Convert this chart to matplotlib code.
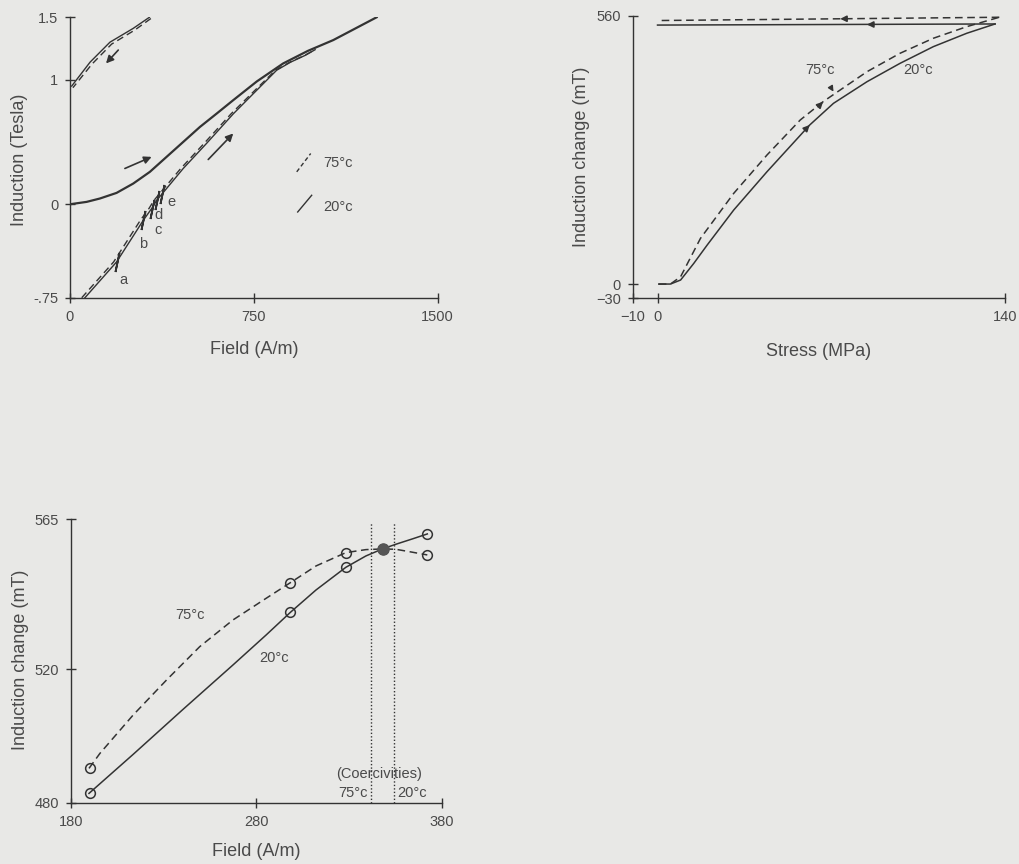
import matplotlib
matplotlib.use("Agg")
import matplotlib.pyplot as plt

plt.rcParams['font.family'] = ['Liberation Sans', 'DejaVu Sans']

# ---- data ----
# (a) B-H loop, Field (A/m) vs Induction (T)
init_H = [0, 68, 122, 190, 258, 326, 394, 462, 530, 600, 666, 762, 870, 970, 1074, 1251]
init_B = [0, 0.019, 0.046, 0.091, 0.166, 0.26, 0.38, 0.50, 0.62, 0.73, 0.835, 0.985, 1.13, 1.23, 1.317, 1.5]

desc20_H = [324, 258, 163, 82, 7]
desc20_B = [1.5, 1.411, 1.30, 1.14, 0.948]
desc75_H = [330, 264, 170, 90, 12]
desc75_B = [1.49, 1.397, 1.285, 1.125, 0.935]

low20_H = [61, 190, 299, 333, 354, 377, 462, 558, 666, 762, 843, 900, 960, 1000]
low20_B = [-0.75, -0.463, -0.129, -0.035, 0.032, 0.086, 0.287, 0.49, 0.725, 0.915, 1.075, 1.14, 1.195, 1.24]
low75_H = [48, 178, 287, 322, 343, 366, 452, 548, 657, 755, 838, 897, 958, 1000]
low75_B = [-0.75, -0.463, -0.129, -0.035, 0.032, 0.086, 0.287, 0.49, 0.725, 0.915, 1.075, 1.14, 1.195, 1.24]

mark_H = [190, 299, 333, 354, 377]
mark_B = [-0.463, -0.129, -0.035, 0.032, 0.086]
mark_lbl = ['a', 'b', 'c', 'd', 'e']
mark_lbl_H = [218, 299, 360, 360, 415]
mark_lbl_B = [-0.605, -0.316, -0.203, -0.088, 0.018]

# (b) Induction change (mT) vs Stress (MPa)
s20_up = [0.5, 5.2, 9.3, 14.6, 20, 30.7, 44.1, 61.3, 70.9, 84.4, 97.7, 111.1, 124.6, 136]
m20_up = [0, 0, 8.4, 43.1, 81.4, 154.5, 234.4, 331.9, 377.2, 422.3, 460.6, 495.4, 523.4, 542.8]
s20_down = [136, 0]
m20_down = [542.8, 540.5]

s75_up = [0.5, 5.2, 9.3, 17.3, 30.7, 44.1, 57.5, 66.7, 84.4, 97.7, 111.1, 124.6, 137.7]
m75_up = [0, 0, 15.3, 95.3, 189.3, 269.3, 342.4, 380.6, 443.2, 481.6, 512.9, 537.2, 556.8]
s75_down = [137.7, 0.7]
m75_down = [556.8, 550]

# (c) Induction change (mT) vs Field (A/m), points a-e
pts_H = [190, 298, 328, 348, 372]
pts20 = [482.8, 537.1, 550.6, 556.1, 560.6]
pts75 = [490.3, 546.0, 555.0, 556.1, 554.3]

c20_H = [189.7, 213.5, 240.4, 267.3, 285.2, 298.3, 312.1, 328.2, 339, 347.9, 355.1, 364, 372.1]
c20_B = [482.8, 494.5, 508.0, 521.3, 530.3, 537.1, 543.8, 550.6, 554.0, 556.1, 557.5, 559.1, 560.6]
c75_H = [189.7, 195.6, 213.5, 231.5, 249.4, 267.3, 285.2, 298.3, 312.1, 328.2, 339, 347.9, 355.1, 362.3, 372.1]
c75_B = [490.3, 494.8, 506.3, 516.8, 526.8, 534.8, 541.3, 546.0, 551.0, 555.0, 555.9, 556.1, 556.0, 555.3, 554.3]

coerc_H = [341.7, 354.2]

# ---- style ----
bg = '#e8e8e6'
ink = '#333333'
txt = '#4a4a4a'
dash = (0, (5, 3))

fig = plt.figure(figsize=(10.2, 8.64), dpi=100, facecolor=bg)


def style_axes(ax):
    ax.set_facecolor(bg)
    for s in ['top', 'right']:
        ax.spines[s].set_visible(False)
    for s in ['left', 'bottom']:
        ax.spines[s].set_color(ink)
        ax.spines[s].set_linewidth(1.0)
    ax.tick_params(direction='inout', length=7, width=1, color=ink,
                   labelcolor=txt, labelsize=10.5, pad=5)


def arrow(ax, tip, tail, ms=11):
    ax.annotate('', xy=tip, xytext=tail,
                arrowprops=dict(arrowstyle='-|>', color=ink, lw=1.2,
                                mutation_scale=ms, shrinkA=0, shrinkB=0))


# ---------- panel (a) ----------
ax1 = fig.add_axes([0.0686, 0.6554, 0.3605, 0.3246])
style_axes(ax1)
ax1.plot(init_H, init_B, color=ink, lw=1.6)
ax1.plot(desc20_H, desc20_B, color=ink, lw=1.0)
ax1.plot(desc75_H, desc75_B, color=ink, lw=1.0, ls=dash)
ax1.plot(low20_H, low20_B, color=ink, lw=1.0)
ax1.plot(low75_H, low75_B, color=ink, lw=1.0, ls=dash)
ax1.plot(mark_H, mark_B, ls='none', marker=(2, 2, -12), ms=14, mew=1.3, color=ink)
for h, b, l in zip(mark_lbl_H, mark_lbl_B, mark_lbl):
    ax1.text(h, b, l, color=txt, fontsize=10.5, ha='center', va='center')

arrow(ax1, (333, 0.38), (224, 0.287))
arrow(ax1, (666, 0.568), (564, 0.359))
arrow(ax1, (147, 1.13), (197, 1.237))

# key
ax1.plot([925, 982], [0.26, 0.407], color=ink, lw=1.0, ls=(0, (3, 2)))
ax1.plot([929, 986], [-0.062, 0.072], color=ink, lw=1.0)
ax1.text(1034, 0.327, '75°c', color=txt, fontsize=10.5, va='center')
ax1.text(1034, -0.022, '20°c', color=txt, fontsize=10.5, va='center')

ax1.set_xlim(0, 1500)
ax1.set_ylim(-0.75, 1.5)
ax1.set_xticks([0, 750, 1500])
ax1.set_yticks([-0.75, 0, 1, 1.5])
ax1.set_yticklabels(['-.75', '0', '1', '1.5'])
ax1.set_xlabel('Field (A/m)', fontsize=13, color=txt)
ax1.set_ylabel('Induction (Tesla)', fontsize=13, color=txt)
ax1.xaxis.set_label_coords(0.5, -0.155)
ax1.yaxis.set_label_coords(-0.115, 0.49)

# ---------- panel (b) ----------
ax2 = fig.add_axes([0.6203, 0.6546, 0.365, 0.3272])
style_axes(ax2)
ax2.plot(s20_up, m20_up, color=ink, lw=1.1)
ax2.plot(s20_down, m20_down, color=ink, lw=1.1)
ax2.plot(s75_up, m75_up, color=ink, lw=1.1, ls=dash)
ax2.plot(s75_down, m75_down, color=ink, lw=1.1, ls=dash)

arrow(ax2, (73.6, 553.5), (76.5, 553.7), ms=9)
arrow(ax2, (84.4, 541.6), (87.3, 541.7), ms=9)
arrow(ax2, (66.7, 380.6), (64.7, 370.0), ms=9)
arrow(ax2, (61.3, 331.9), (59.3, 321.0), ms=9)

ax2.annotate('75°c', xy=(70.9, 401.5), xytext=(65.6, 446.8), color=txt,
             fontsize=10.5, ha='center', va='center',
             arrowprops=dict(arrowstyle='-|>', color=ink, lw=1.0,
                             mutation_scale=8, shrinkA=6, shrinkB=0))
ax2.text(105.1, 446.8, '20°c', color=txt, fontsize=10.5, ha='center', va='center')

ax2.set_xlim(-10, 140)
ax2.set_ylim(-30, 560)
ax2.set_xticks([-10, 0, 140])
ax2.set_xticklabels(['\u221210', '0', '140'])
ax2.set_yticks([-30, 0, 560])
ax2.set_yticklabels(['\u221230', '0', '560'])
ax2.set_xlabel('Stress (MPa)', fontsize=13, color=txt)
ax2.set_ylabel('Induction change (mT)', fontsize=13, color=txt)
ax2.xaxis.set_label_coords(0.5, -0.158)
ax2.yaxis.set_label_coords(-0.115, 0.5)

# ---------- panel (c) ----------
ax3 = fig.add_axes([0.0696, 0.0709, 0.3637, 0.3281])
style_axes(ax3)
ax3.plot(c20_H, c20_B, color=ink, lw=1.1)
ax3.plot(c75_H, c75_B, color=ink, lw=1.1, ls=dash)
ax3.plot(pts_H, pts20, ls='none', marker='o', ms=7, mfc='none', mec=ink, mew=1.1)
ax3.plot(pts_H, pts75, ls='none', marker='o', ms=7, mfc='none', mec=ink, mew=1.1)
ax3.plot(pts_H[3], pts20[3], ls='none', marker='o', ms=8, color='#555555')
for h in coerc_H:
    ax3.plot([h, h], [480, 564.3], color=ink, lw=1.0, ls=(0, (1, 1.5)))

ax3.text(244, 536.3, '75°c', color=txt, fontsize=10.5, ha='center', va='center')
ax3.text(289.7, 523.3, '20°c', color=txt, fontsize=10.5, ha='center', va='center')
ax3.text(346, 488.5, '(Coercivities)', color=txt, fontsize=10.5, ha='center', va='center')
ax3.text(340, 482.8, '75°c', color=txt, fontsize=10.5, ha='right', va='center')
ax3.text(356, 482.8, '20°c', color=txt, fontsize=10.5, ha='left', va='center')

ax3.set_xlim(180, 380)
ax3.set_ylim(480, 565)
ax3.set_xticks([180, 280, 380])
ax3.set_yticks([480, 520, 565])
ax3.set_xlabel('Field (A/m)', fontsize=13, color=txt)
ax3.set_ylabel('Induction change (mT)', fontsize=13, color=txt)
ax3.xaxis.set_label_coords(0.5, -0.141)
ax3.yaxis.set_label_coords(-0.113, 0.503)

fig.savefig('out.png', dpi=100, facecolor=bg)
